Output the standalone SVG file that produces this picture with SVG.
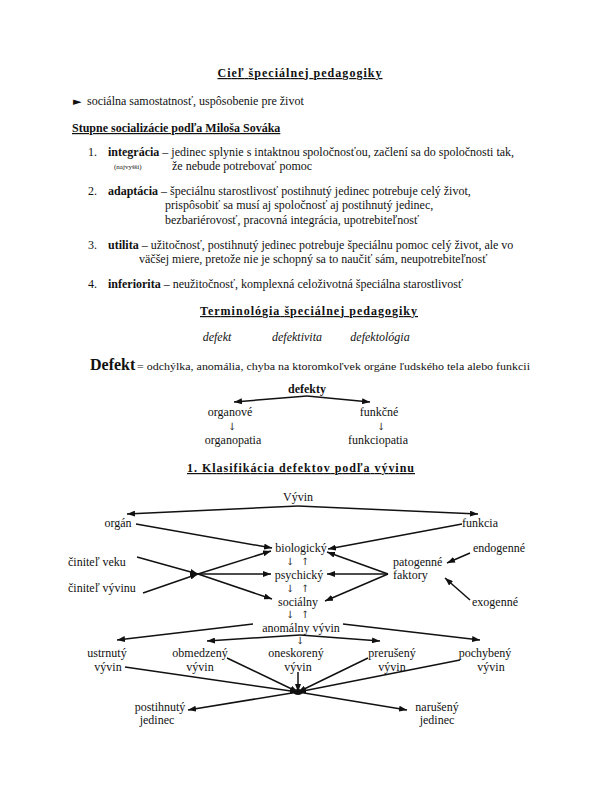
<svg xmlns="http://www.w3.org/2000/svg" width="600" height="800" viewBox="0 0 600 800">
<defs>
<marker id="ah" viewBox="0 0 8 6" refX="8" refY="3" markerWidth="8" markerHeight="6" markerUnits="userSpaceOnUse" orient="auto"><path d="M0,0 L8,3 L0,6 z" fill="#111"/></marker>
</defs>
<style>
text{font-family:"Liberation Serif","Times New Roman",serif;font-size:12px;fill:#111}
.h{font-weight:bold;text-decoration:underline;letter-spacing:1px}
.b{font-weight:bold}
.i{font-style:italic}
.m{text-anchor:middle}
.sm{font-size:7px}
.big{font-size:16px;font-weight:bold}
.s11{font-size:11px}
.ar{font-family:"DejaVu Serif",serif;font-size:10px;text-anchor:middle;fill:#222}
line{stroke:#111;stroke-width:1.5;fill:none}
.a{marker-end:url(#ah)}
</style>
<rect width="600" height="800" fill="#fff"/>

<g id="text-top">
<text class="h m" x="300" y="77" textLength="165" lengthAdjust="spacing">Cieľ špeciálnej pedagogiky</text>
<text x="73" y="105"><tspan font-family="DejaVu Sans" font-size="11">►</tspan><tspan x="87">sociálna samostatnosť, uspôsobenie pre život</tspan></text>
<text class="b" x="72" y="132" text-decoration="underline">Stupne socializácie podľa Miloša Sováka</text>

<text x="88" y="156">1.<tspan x="108" font-weight="bold">integrácia</tspan> – jedinec splynie s intaktnou spoločnosťou, začlení sa do spoločnosti tak,</text>
<text class="sm" x="114" y="169">(najvyšší)</text>
<text x="172" y="170">že nebude potrebovať pomoc</text>

<text x="88" y="195">2.<tspan x="108" font-weight="bold">adaptácia</tspan> – špeciálnu starostlivosť postihnutý jedinec potrebuje celý život,</text>
<text x="165" y="209">prispôsobiť sa musí aj spoločnosť aj postihnutý jedinec,</text>
<text x="165" y="224">bezbariérovosť, pracovná integrácia, upotrebiteľnosť</text>

<text x="88" y="249">3.<tspan x="108" font-weight="bold">utilita</tspan> – užitočnosť, postihnutý jedinec potrebuje špeciálnu pomoc celý život, ale vo</text>
<text x="139" y="263">väčšej miere, pretože nie je schopný sa to naučiť sám, neupotrebiteľnosť</text>

<text x="88" y="288">4.<tspan x="108" font-weight="bold">inferiorita</tspan> – neužitočnosť, komplexná celoživotná špeciálna starostlivosť</text>

<text class="h m" x="309" y="315" textLength="218" lengthAdjust="spacing">Terminológia špeciálnej pedagogiky</text>
<text class="i m" x="217" y="341">defekt</text>
<text class="i m" x="297" y="341">defektivita</text>
<text class="i m" x="380" y="341">defektológia</text>
<text class="big" x="90" y="370">Defekt</text>
<text class="s11" x="137" y="370" textLength="393" lengthAdjust="spacingAndGlyphs">= odchýlka, anomália, chyba na ktoromkoľvek orgáne ľudského tela alebo funkcii</text>
</g>

<g id="connectors">
<line class="a" x1="307" y1="396" x2="234" y2="402"/>
<line class="a" x1="307" y1="396" x2="370" y2="402"/>

<line class="a" x1="298" y1="506" x2="127" y2="514"/>
<line class="a" x1="298" y1="506" x2="478" y2="514"/>
<line class="a" x1="136" y1="524" x2="272" y2="548"/>
<line class="a" x1="462" y1="524" x2="328" y2="549"/>
<line class="a" x1="137" y1="557" x2="198" y2="574"/>
<line class="a" x1="143" y1="593" x2="198" y2="574"/>
<line class="a" x1="198" y1="574" x2="271" y2="551"/>
<line class="a" x1="198" y1="574" x2="271" y2="574"/>
<line class="a" x1="198" y1="574" x2="272" y2="599"/>
<line class="a" x1="388" y1="574" x2="327" y2="552"/>
<line class="a" x1="388" y1="574" x2="327" y2="574"/>
<line class="a" x1="388" y1="574" x2="325" y2="601"/>
<line class="a" x1="470" y1="553" x2="447" y2="563"/>
<line class="a" x1="470" y1="600" x2="445" y2="578"/>

<line class="a" x1="253" y1="624" x2="117" y2="640"/>
<line class="a" x1="343" y1="624" x2="480" y2="640"/>
<line class="a" x1="300" y1="635" x2="207" y2="641"/>
<line class="a" x1="300" y1="635" x2="380" y2="641"/>
<line class="a" x1="125" y1="667" x2="298" y2="692"/>
<line class="a" x1="227" y1="658" x2="298" y2="692"/>
<line class="a" x1="298" y1="672" x2="298" y2="692"/>
<line class="a" x1="368" y1="658" x2="298" y2="692"/>
<line class="a" x1="460" y1="660" x2="298" y2="692"/>
<ellipse cx="298" cy="692" rx="5" ry="3" fill="#111"/>
<line class="a" x1="298" y1="692" x2="188" y2="710"/>
<line class="a" x1="298" y1="692" x2="407" y2="710"/>
</g>

<g id="n-defekty"><text class="b m" x="307" y="393">defekty</text></g>
<g id="n-organove"><text class="m" x="230" y="416">organové</text><text class="ar" x="232" y="430">↓</text><text class="m" x="233" y="444">organopatia</text></g>
<g id="n-funkcne"><text class="m" x="379" y="416">funkčné</text><text class="ar" x="381" y="430">↓</text><text class="m" x="378" y="444">funkciopatia</text></g>

<g id="heading-klas"><text class="h m" x="301" y="472" textLength="228" lengthAdjust="spacing">1. Klasifikácia defektov podľa vývinu</text></g>

<g id="n-vyvin"><text class="m" x="298" y="501">Vývin</text></g>
<g id="n-organ"><text class="m" x="118" y="527">orgán</text></g>
<g id="n-funkcia"><text class="m" x="480" y="527">funkcia</text></g>
<g id="n-bio"><text class="m" x="301" y="552">biologický</text></g>
<g id="n-arr1"><text class="ar" x="290" y="565">↓</text><text class="ar" x="305" y="565">↑</text></g>
<g id="n-psych"><text class="m" x="299" y="579">psychický</text></g>
<g id="n-arr2"><text class="ar" x="290" y="592">↓</text><text class="ar" x="305" y="592">↑</text></g>
<g id="n-soc"><text class="m" x="298" y="606">sociálny</text></g>
<g id="n-arr3"><text class="ar" x="290" y="618">↓</text><text class="ar" x="305" y="618">↑</text></g>
<g id="n-veku"><text x="68" y="566">činiteľ veku</text></g>
<g id="n-vyvinu"><text x="68" y="592">činiteľ vývinu</text></g>
<g id="n-pato"><text x="393" y="566">patogenné</text><text x="393" y="579">faktory</text></g>
<g id="n-endo"><text class="m" x="499" y="552">endogenné</text></g>
<g id="n-exo"><text class="m" x="495" y="606">exogenné</text></g>
<g id="n-anom"><text class="m" x="301" y="631.5">anomálny vývin</text><text class="ar" x="300" y="644">↓</text></g>
<g id="n-ustr"><text class="m" x="107" y="657">ustrnutý</text><text class="m" x="108" y="671">vývin</text></g>
<g id="n-obm"><text class="m" x="200" y="657">obmedzený</text><text class="m" x="200" y="671">vývin</text></g>
<g id="n-one"><text class="m" x="296" y="657">oneskorený</text><text class="m" x="298" y="671">vývin</text></g>
<g id="n-prer"><text class="m" x="392" y="657">prerušený</text><text class="m" x="392" y="671">vývin</text></g>
<g id="n-poch"><text class="m" x="485" y="657">pochybený</text><text class="m" x="491" y="671">vývin</text></g>
<g id="n-post"><text class="m" x="160" y="711">postihnutý</text><text class="m" x="157" y="724">jedinec</text></g>
<g id="n-naru"><text class="m" x="437" y="711">narušený</text><text class="m" x="437" y="724">jedinec</text></g>
</svg>
